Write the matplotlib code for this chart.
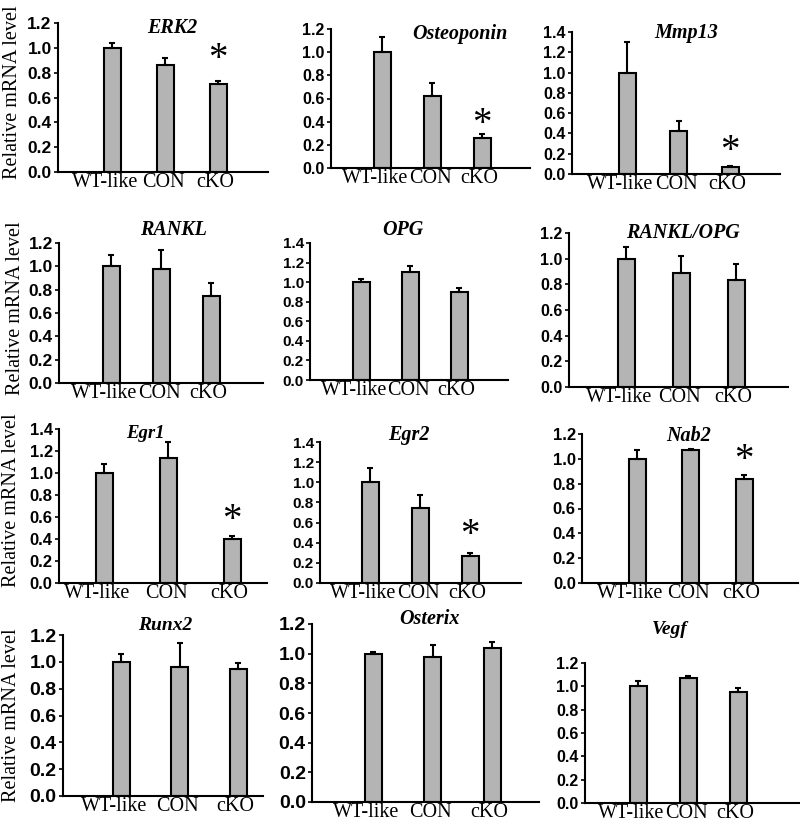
import numpy as np
import matplotlib
matplotlib.use('Agg')
import matplotlib.pyplot as plt

# gene panels, left to right, top to bottom
genes = ['ERK2', 'Osteoponin', 'Mmp13',
         'RANKL', 'OPG', 'RANKL/OPG',
         'Egr1', 'Egr2', 'Nab2',
         'Runx2', 'Osterix', 'Vegf']
groups = ['WT-like', 'CON', 'cKO']

means = [[1.00, 0.86, 0.71],
         [1.00, 0.62, 0.26],
         [1.00, 0.42, 0.07],
         [1.00, 0.98, 0.75],
         [1.00, 1.10, 0.90],
         [1.00, 0.89, 0.83],
         [1.00, 1.14, 0.40],
         [1.00, 0.74, 0.27],
         [1.00, 1.07, 0.84],
         [1.00, 0.96, 0.95],
         [1.00, 0.98, 1.04],
         [1.00, 1.07, 0.95]]
errs = [[0.04, 0.06, 0.02],
        [0.13, 0.11, 0.03],
        [0.30, 0.10, 0.01],
        [0.10, 0.16, 0.11],
        [0.03, 0.06, 0.04],
        [0.09, 0.13, 0.13],
        [0.08, 0.14, 0.03],
        [0.14, 0.13, 0.03],
        [0.07, 0.01, 0.03],
        [0.06, 0.18, 0.04],
        [0.01, 0.08, 0.04],
        [0.05, 0.02, 0.04]]
ymaxs = [1.2, 1.2, 1.4, 1.2, 1.4, 1.2, 1.4, 1.4, 1.2, 1.2, 1.2, 1.2]
significant = [True, True, True, False, False, False,
               True, True, True, False, False, False]

# layout in pixels: left, right, top(ymax), bottom(0), first bar centre, bar spacing,
# tick font size, title centre x, title centre y, title size, star offset px
layout = [
    (58, 268, 23, 172, 112, 53.0, 12.5, 172, 28, 14.5, 20),
    (331, 530, 29, 168, 382, 50.0, 11.5, 460, 34, 14.5, 9),
    (572, 780, 32, 174, 627, 51.5, 11.5, 686, 33, 14.5, 13),
    (59, 263, 243, 383, 111, 50.0, 12.5, 173, 230, 14.5, 0),
    (310, 508, 243, 380, 361, 49.0, 11.0, 403, 230, 14.5, 0),
    (569, 788, 233, 387, 626, 55.0, 11.5, 683, 233, 14.5, 0),
    (59, 267, 429, 583, 104, 64.0, 12.0, 145, 433, 13.5, 14),
    (320, 521, 442, 583, 370, 50.0, 11.0, 409, 435, 14.5, 16),
    (582, 798, 434, 583, 637, 53.5, 12.0, 689, 436, 14.5, 13),
    (63, 263, 635, 796, 121, 58.5, 14.0, 165, 626, 14, 0),
    (312, 539, 624, 802, 373, 59.5, 14.0, 430, 619, 14.5, 0),
    (585, 800, 663, 803, 638, 50.0, 11.5, 670, 629, 14, 0),
]
label_shift = [-7, -2, -3]  # px, horizontal nudge of the group labels
ylabel_pos = [(13, 92), (16, 308), (12, 500), (12, 715)]

W, H = 800, 824
fig = plt.figure(figsize=(W / 100, H / 100), dpi=100)
serif = 'Liberation Serif'
sans = 'Liberation Sans'
bar_px = 17

for i, gene in enumerate(genes):
    left, right, top, bot, c1, sp, fs, tx, ty, tfs, star = layout[i]
    ax = fig.add_axes([left / W, 1 - bot / H, (right - left) / W, (bot - top) / H])
    x = np.arange(3)
    vals = np.array(means[i])
    e = np.array(errs[i])
    ax.bar(x, vals, width=bar_px / sp, color='#b4b4b4', edgecolor='black',
           linewidth=1.5, zorder=2)
    ax.errorbar(x, vals, yerr=[np.zeros(3), e], fmt='none', ecolor='black',
                elinewidth=1.5, capsize=2.5, capthick=1.5, zorder=3)
    ax.set_xlim((left - c1) / sp, (right - c1) / sp)
    ax.set_ylim(0, ymaxs[i])
    ticks = np.round(np.arange(0, ymaxs[i] + 0.01, 0.2), 1)
    ax.set_yticks(ticks)
    ax.set_yticklabels(['%.1f' % t for t in ticks], fontfamily=sans,
                       fontweight='bold', fontsize=fs)
    ax.set_xticks([])
    # group labels drawn as text so they can be nudged like the original
    for xi, g, dx in zip(x, groups, label_shift):
        ax.annotate(g, xy=(xi, 0), xycoords=('data', 'axes fraction'),
                    xytext=(dx * 0.72, -1), textcoords='offset points',
                    ha='center', va='top', fontfamily=serif, fontsize=14.5)
    ax.tick_params(axis='y', direction='out', length=3, width=1.2, pad=1.5)
    for s in ['top', 'right']:
        ax.spines[s].set_visible(False)
    for s in ['left', 'bottom']:
        ax.spines[s].set_linewidth(1.5)
    if significant[i]:
        ax.annotate('*', xy=(2, vals[2] + e[2]), xytext=(0, star * 0.72 + 1),
                    textcoords='offset points', ha='center', va='center',
                    fontsize=28, fontfamily=serif)
    fig.text(tx / W, 1 - ty / H, gene, ha='center', va='center',
             fontfamily=serif, fontweight='bold', fontstyle='italic', fontsize=tfs)

for px, py in ylabel_pos:
    fig.text(px / W, 1 - py / H, 'Relative mRNA level', rotation=90,
             ha='center', va='center', fontfamily=serif, fontsize=14.5)

fig.savefig('out.png', dpi=100)
